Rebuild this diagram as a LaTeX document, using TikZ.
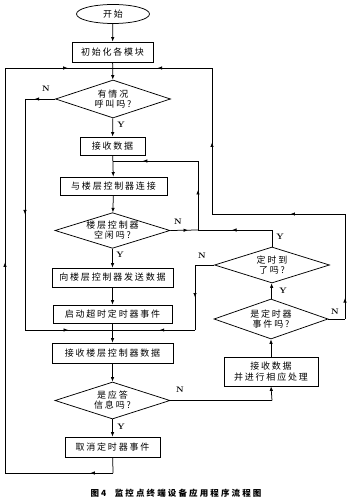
\documentclass[tikz,border=0pt]{standalone}
\usepackage{fontspec}
\newfontfamily\cjk[LetterSpace=20]{Noto Sans CJK SC}
\newfontfamily\cjkcap[LetterSpace=25]{Noto Sans CJK SC}
\usetikzlibrary{shapes.geometric,arrows.meta,decorations.markings}
\begin{document}
\begin{tikzpicture}[x=1pt,y=-1pt,
  line width=0.75pt,
  tip/.tip={Latex[length=4.5pt,width=3.5pt]},
  boxnode/.style={draw,rectangle,inner sep=0pt,font=\cjk\fontsize{9}{10.5}\selectfont,align=center},
  decnode/.style={draw,diamond,aspect=3,inner sep=0pt,font=\cjk\fontsize{9}{10}\selectfont,align=center},
  flow/.style={-tip},
  midarr/.style={postaction={decorate},decoration={markings,mark=at position #1 with {\arrow{tip}}}},
  midarr/.default=0.5,
  lab/.style={font=\bfseries\fontsize{8}{9}\selectfont,inner sep=0pt}]
\useasboundingbox (0,0) rectangle (350,502);
% nodes
\node[draw,ellipse,minimum width=73pt,minimum height=19pt,inner sep=0pt,font=\cjk\fontsize{9}{10}\selectfont] (start) at (113,14) {开始};
\node[boxnode,minimum width=81pt,minimum height=20pt] (init) at (112.5,52) {初始化各模块};
\node[decnode,minimum width=115pt,minimum height=38pt] (d1) at (113,99) {有情况\\呼叫吗?};
\node[boxnode,minimum width=65pt,minimum height=18pt] (recv) at (112.5,146) {接收数据};
\node[boxnode,minimum width=107pt,minimum height=18pt] (conn) at (113.5,186) {与楼层控制器连接};
\node[decnode,minimum width=115pt,minimum height=35pt] (d2) at (112.5,230.5) {楼层控制器\\空闲吗?};
\node[boxnode,minimum width=121pt,minimum height=19pt] (send) at (112.5,277.5) {向楼层控制器发送数据};
\node[boxnode,minimum width=119pt,minimum height=18pt] (tmr) at (112.5,314) {启动超时定时器事件};
\node[boxnode,minimum width=121pt,minimum height=20pt] (rfl) at (112.5,353) {接收楼层控制器数据};
\node[decnode,minimum width=115pt,minimum height=37pt] (d5) at (112.5,400.5) {是应答\\信息吗?};
\node[boxnode,minimum width=95pt,minimum height=20pt] (cancel) at (112.5,447) {取消定时器事件};
\node[decnode,minimum width=115pt,minimum height=36pt] (d3) at (272,265) {定时到\\了吗?};
\node[decnode,minimum width=114pt,minimum height=40pt] (d4) at (271,319) {是定时器\\事件吗?};
\node[boxnode,minimum width=94pt,minimum height=29pt] (proc) at (271,371.5) {接收数据\\并进行相应处理};
% coordinates
\coordinate (top) at (113,68);
\coordinate (tl) at (5,68);
\coordinate (bl) at (5,473);
\coordinate (bm) at (113,473);
\coordinate (tr) at (212,68);
\coordinate (rm) at (212,214);
\coordinate (rr) at (345,214);
\coordinate (rb) at (345,319);
\coordinate (n1a) at (25,99);
\coordinate (n1b) at (25,330);
\coordinate (mj) at (113,330);
\coordinate (n2a) at (198,230);
\coordinate (n2b) at (198,161);
\coordinate (cj) at (113,161);
\coordinate (y3a) at (272,230);
\coordinate (n3a) at (195,265);
\coordinate (n3b) at (195,330);
\coordinate (n5a) at (272,400.5);
% main column
\draw[flow] (start) -- (init);
\draw[flow] (init) -- (d1);
\draw[flow] (d1) -- (recv);
\draw[flow] (recv) -- (conn);
\draw[flow] (conn) -- (d2);
\draw[flow] (d2) -- (send);
\draw[flow] (send) -- (tmr);
\draw[flow] (tmr) -- (rfl);
\draw[flow] (rfl) -- (d5);
\draw[flow] (d5) -- (cancel);
% outer left loop
\draw (cancel) -- (bm);
\draw[midarr=0.21] (bm) -- (bl);
\draw[midarr=0.52] (bl) -- (tl);
\draw[midarr=0.58] (tl) -- (top);
% right loop
\draw (d4.east) -- (rb);
\draw[midarr=0.2] (rb) -- (rr);
\draw[midarr=0.41] (rr) -- (rm);
\draw[midarr=0.49] (rm) -- (tr);
\draw[midarr=0.55] (tr) -- (top);
% d1 N
\draw[midarr=0.68] (d1.west) -- (n1a);
\draw[midarr=0.5] (n1a) -- (n1b);
\draw[midarr=0.49] (n1b) -- (mj);
% d2 N
\draw[midarr=0.64] (d2.east) -- (n2a);
\draw[midarr=0.58] (n2a) -- (n2b);
\draw[midarr=0.65] (n2b) -- (cj);
% d3 Y
\draw (d3.north) -- (y3a);
\draw[midarr=0.54] (y3a) -- (n2a);
% d3 N
\draw (d3.west) -- (n3a);
\draw[midarr=0.5] (n3a) -- (n3b);
\draw[midarr=0.43] (n3b) -- (mj);
% d4 Y, proc
\draw[flow] (d4) -- (d3);
\draw[flow] (proc) -- (d4);
\draw (d5.east) -- (n5a);
\draw[flow] (n5a) -- (proc.south);
% labels
\node[lab] (ln1) at (46,89) {N};
\node[lab] (ly1) at (121,125) {Y};
\node[lab] (ln2) at (178,222) {N};
\node[lab] (ly2) at (120,255) {Y};
\node[lab] (ly3) at (280,237) {Y};
\node[lab] (ln3) at (202,256) {N};
\node[lab] (ly4) at (283,291) {Y};
\node[lab] (ln4) at (335,312) {N};
\node[lab] (ln5) at (180,390) {N};
\node[lab] (ly5) at (121,427) {Y};
% caption
\node[font=\cjkcap\bfseries\fontsize{8.5}{10}\selectfont,inner sep=0pt] (cap) at (176,493) {图4\hspace{1em}监控点终端设备应用程序流程图};
\end{tikzpicture}
\end{document}
